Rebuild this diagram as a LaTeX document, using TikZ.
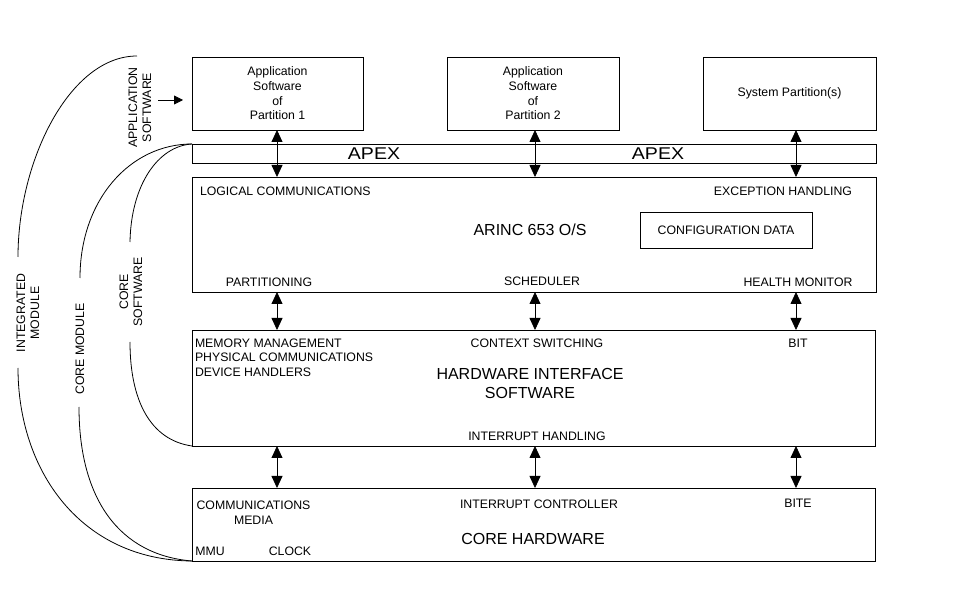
\documentclass[tikz,border=0pt]{standalone}
\usepackage{fontspec}
\setmainfont{Liberation Sans}
\newfontfamily\apexfont{Liberation Sans}[FakeStretch=1.15]
\usetikzlibrary{arrows.meta}
\begin{document}
\begin{tikzpicture}[x=1pt,y=-1pt,
  every node/.style={inner sep=0pt, outer sep=0pt, font=\fontsize{12.3}{14.7}\selectfont},
  box/.style={draw, line width=0.8pt},
  big/.style={font=\fontsize{16}{19}\selectfont},
  apexlbl/.style={font=\apexfont\fontsize{17}{19}\selectfont},
  dbl/.style={line width=0.8pt, {Triangle[width=11pt,length=12pt]}-{Triangle[width=11pt,length=12pt]}},
  sgl/.style={line width=0.8pt, -{Triangle[width=9pt,length=9pt]}},
  brace/.style={line width=0.8pt},
  side/.style={rotate=90, align=center, font=\fontsize{12.3}{14}\selectfont}]
\useasboundingbox (0,0) rectangle (975,593);

% top partitions
\node[box, minimum width=171pt, minimum height=73pt, align=center] (p1) at (277.5,93.5) {Application\\Software\\of\\Partition 1};
\node[box, minimum width=172pt, minimum height=73pt, align=center] (p2) at (533,93.5) {Application\\Software\\of\\Partition 2};
\node[box, minimum width=173pt, minimum height=73pt] (sys) at (789.5,93.5) {System Partition(s)};

% APEX bar
\node[box, minimum width=684pt, minimum height=19pt] (apex) at (534,153.5) {};
\node[apexlbl] (apex1) at (374,154) {APEX};
\node[apexlbl] (apex2) at (658,154) {APEX};

% ARINC 653 O/S
\node[box, minimum width=684pt, minimum height=115pt] (arinc) at (534,234.5) {};
\node[anchor=west] (logc) at (200,191) {LOGICAL COMMUNICATIONS};
\node (exc) at (783,191) {EXCEPTION HANDLING};
\node[big] (os) at (530,230) {ARINC 653 O/S};
\node[box, minimum width=172pt, minimum height=36pt] (cfg) at (726,230) {CONFIGURATION DATA};
\node (part) at (269,282) {PARTITIONING};
\node (sched) at (542,281) {SCHEDULER};
\node (hm) at (798,282) {HEALTH MONITOR};

% Hardware interface software
\node[box, minimum width=683pt, minimum height=116pt] (his) at (533.5,388) {};
\node[anchor=west] (mem) at (195,343) {MEMORY MANAGEMENT};
\node[anchor=west] (phys) at (195,357) {PHYSICAL COMMUNICATIONS};
\node[anchor=west] (dev) at (195,372) {DEVICE HANDLERS};
\node (ctx) at (537,343) {CONTEXT SWITCHING};
\node (bit) at (798,343) {BIT};
\node[big, align=center] (hisl) at (530,383.5) {HARDWARE INTERFACE\\SOFTWARE};
\node (irh) at (537,436) {INTERRUPT HANDLING};

% Core hardware
\node[box, minimum width=683pt, minimum height=73pt] (core) at (533.5,524.5) {};
\node[align=center, font=\fontsize{12.3}{15}\selectfont] (comm) at (253.5,512.5) {COMMUNICATIONS\\MEDIA};
\node (mmu) at (210,551) {MMU};
\node (clk) at (290,551) {CLOCK};
\node (irc) at (539,504) {INTERRUPT CONTROLLER};
\node[big] (corel) at (533,539) {CORE HARDWARE};
\node (bite) at (798,503) {BITE};

% vertical double arrows
\coordinate (c1) at (277,0);
\coordinate (c2) at (535,0);
\coordinate (c3) at (796,0);
\draw[dbl] (c1 |- p1.south) -- (c1 |- arinc.north);
\draw[dbl] (c2 |- p2.south) -- (c2 |- arinc.north);
\draw[dbl] (c3 |- sys.south) -- (c3 |- arinc.north);
\draw[dbl] (c1 |- arinc.south) -- (c1 |- his.north);
\draw[dbl] (c2 |- arinc.south) -- (c2 |- his.north);
\draw[dbl] (c3 |- arinc.south) -- (c3 |- his.north);
\draw[dbl] (c1 |- his.south) -- (c1 |- core.north);
\draw[dbl] (c2 |- his.south) -- (c2 |- core.north);
\draw[dbl] (c3 |- his.south) -- (c3 |- core.north);

% side labels
\node[side] (applbl) at (140,107.5) {APPLICATION\\SOFTWARE};
\coordinate (aa) at (158,100);
\draw[sgl, shorten >=9pt] (aa) -- (aa -| p1.west);
\node[side] (cslbl) at (131,292) {CORE\\SOFTWARE};
\node[side] (cmlbl) at (80,349) {CORE MODULE};
\node[side] (imlbl) at (28,313) {INTEGRATED\\MODULE};

% brackets
\coordinate (itop) at (137,56);
\coordinate (ia) at (18,257);
\coordinate (ib) at (18,368);
\draw[brace] (itop) .. controls (70,56) and (18,160) .. (ia);
\draw[brace] (ib) .. controls (18,470) and (80,560) .. (core.south west);

\coordinate (ma) at (80,278);
\coordinate (mb) at (79,407);
\draw[brace] (apex.north west) .. controls (130,144) and (80,200) .. (ma);
\draw[brace] (mb) .. controls (79,500) and (120,555) .. (core.south west);

\coordinate (sa) at (130,242);
\coordinate (sb) at (130,342);
\draw[brace] (apex.north west) .. controls (158,146) and (131,185) .. (sa);
\draw[brace] (sb) .. controls (130,400) and (150,440) .. (his.south west);
\end{tikzpicture}
\end{document}
